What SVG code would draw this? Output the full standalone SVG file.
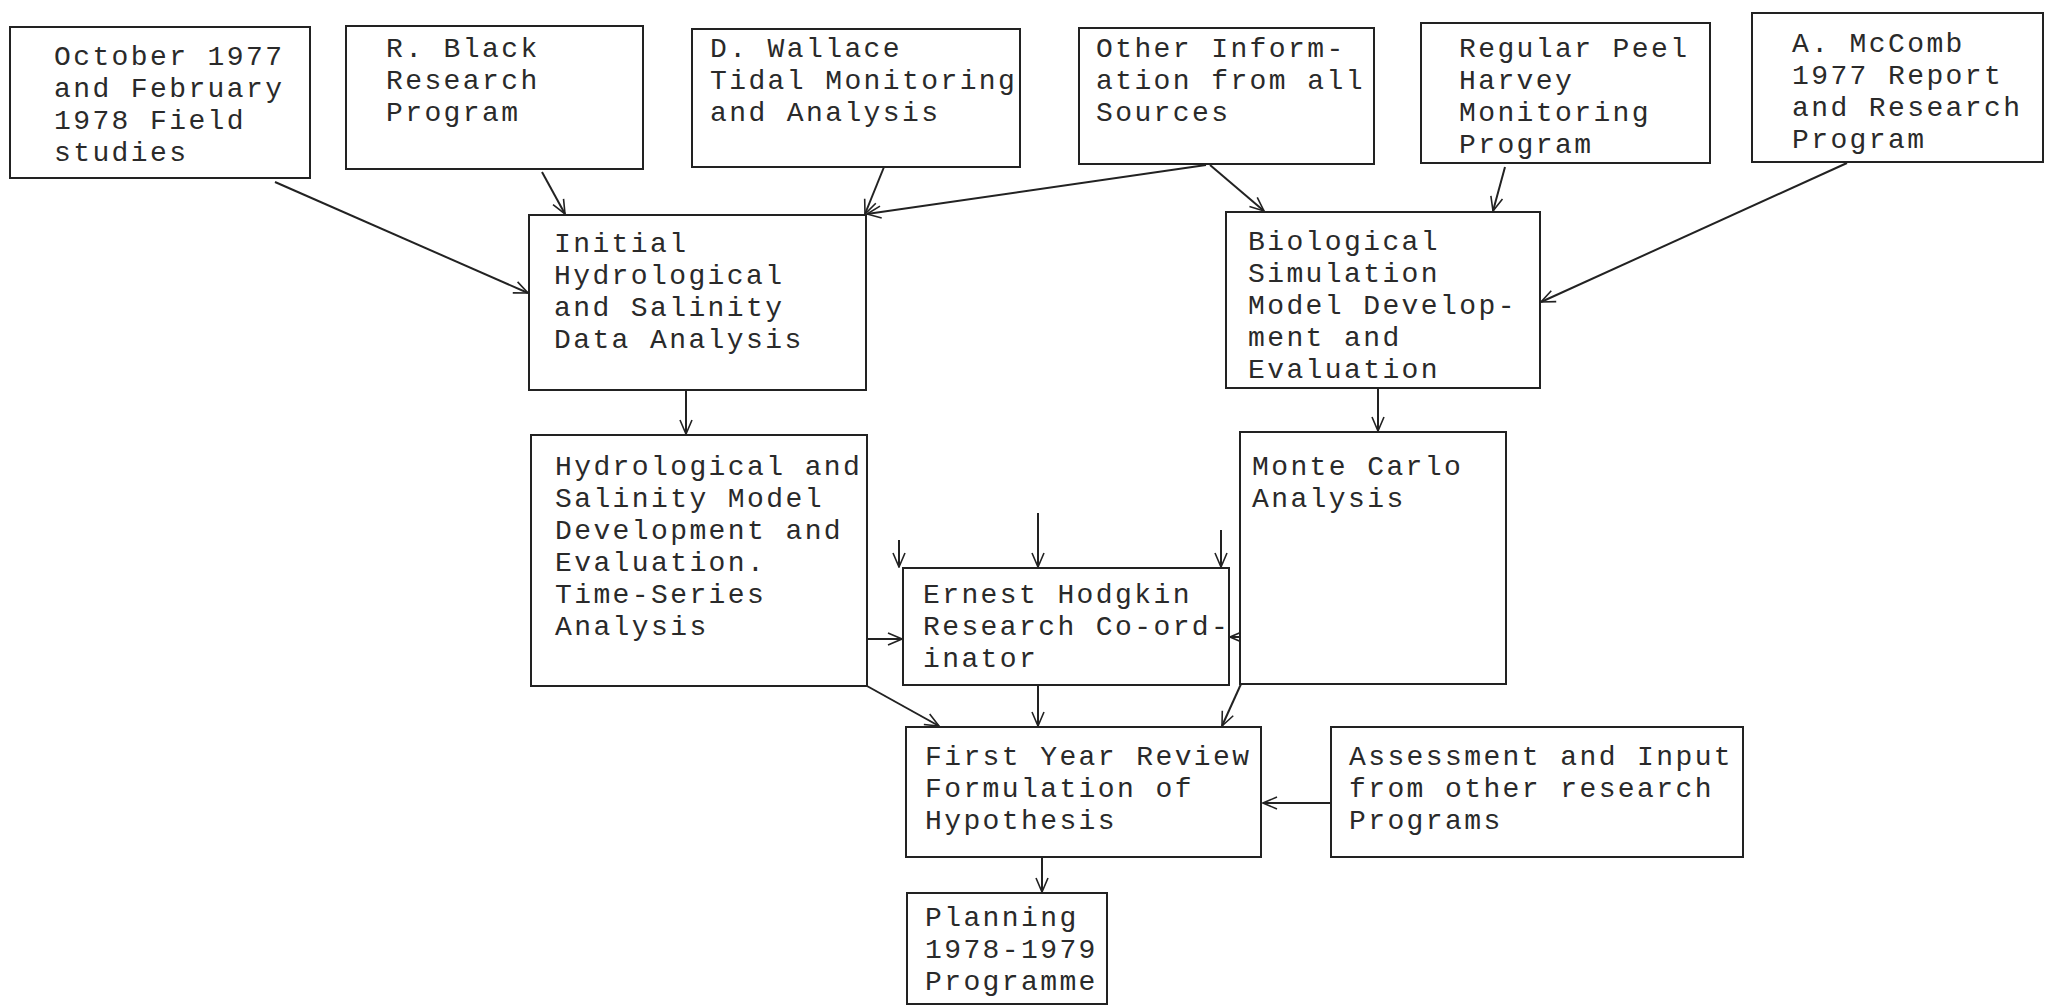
<svg xmlns="http://www.w3.org/2000/svg" width="2046" height="1006" viewBox="0 0 2046 1006">
<style>
.box{fill:#fff;stroke:#222;stroke-width:2}
.t{font-family:"Liberation Mono","Courier New",monospace;font-size:28px;letter-spacing:2.4px;fill:#2a2a2a}
.c{fill:none;stroke:#222;stroke-width:2;marker-end:url(#ah)}
</style>
<defs>
<marker id="ah" viewBox="0 0 16 16" refX="15" refY="8" markerWidth="16" markerHeight="16" markerUnits="userSpaceOnUse" orient="auto">
<path d="M1,2 L15,8 L1,14" fill="none" stroke="#222" stroke-width="1.6"/>
</marker>
</defs>
<rect width="2046" height="1006" fill="#fff"/>
<g id="connectors">
<line class="c" x1="275" y1="182" x2="528" y2="293"/>
<line class="c" x1="542" y1="172" x2="565" y2="214"/>
<line class="c" x1="884" y1="167" x2="865" y2="214"/>
<line class="c" x1="1206" y1="165" x2="867" y2="214"/>
<line class="c" x1="1210" y1="165" x2="1264" y2="211"/>
<line class="c" x1="1505" y1="167" x2="1493" y2="211"/>
<line class="c" x1="1847" y1="163" x2="1541" y2="302"/>
<line class="c" x1="686" y1="390" x2="686" y2="434"/>
<line class="c" x1="1378" y1="388" x2="1378" y2="431"/>
<line class="c" x1="899" y1="540" x2="899" y2="567"/>
<line class="c" x1="1038" y1="513" x2="1038" y2="567"/>
<line class="c" x1="1221" y1="530" x2="1221" y2="567"/>
<line class="c" x1="867" y1="639" x2="902" y2="639"/>
<line class="c" x1="1272" y1="637" x2="1230" y2="637"/>
<line class="c" x1="867" y1="686" x2="939" y2="726"/>
<line class="c" x1="1038" y1="685" x2="1038" y2="726"/>
<line class="c" x1="1241" y1="684" x2="1222" y2="726"/>
<line class="c" x1="1331" y1="803" x2="1263" y2="803"/>
<line class="c" x1="1042" y1="857" x2="1042" y2="892"/>
</g>
<g id="n1"><rect class="box" x="10" y="27" width="300" height="151"/>
<text class="t" x="54" y="65">October 1977</text><text class="t" x="54" y="97">and February</text><text class="t" x="54" y="129">1978 Field</text><text class="t" x="54" y="161">studies</text></g>
<g id="n2"><rect class="box" x="346" y="26" width="297" height="143"/>
<text class="t" x="386" y="57">R. Black</text><text class="t" x="386" y="89">Research</text><text class="t" x="386" y="121">Program</text></g>
<g id="n3"><rect class="box" x="692" y="29" width="328" height="138"/>
<text class="t" x="710" y="57">D. Wallace</text><text class="t" x="710" y="89">Tidal Monitoring</text><text class="t" x="710" y="121">and Analysis</text></g>
<g id="n4"><rect class="box" x="1079" y="28" width="295" height="136"/>
<text class="t" x="1096" y="57">Other Inform-</text><text class="t" x="1096" y="89">ation from all</text><text class="t" x="1096" y="121">Sources</text></g>
<g id="n5"><rect class="box" x="1421" y="23" width="289" height="140"/>
<text class="t" x="1459" y="57">Regular Peel</text><text class="t" x="1459" y="89">Harvey</text><text class="t" x="1459" y="121">Monitoring</text><text class="t" x="1459" y="153">Program</text></g>
<g id="n6"><rect class="box" x="1752" y="13" width="291" height="149"/>
<text class="t" x="1792" y="52">A. McComb</text><text class="t" x="1792" y="84">1977 Report</text><text class="t" x="1792" y="116">and Research</text><text class="t" x="1792" y="148">Program</text></g>
<g id="n7"><rect class="box" x="529" y="215" width="337" height="175"/>
<text class="t" x="554" y="252">Initial</text><text class="t" x="554" y="284">Hydrological</text><text class="t" x="554" y="316">and Salinity</text><text class="t" x="554" y="348">Data Analysis</text></g>
<g id="n8"><rect class="box" x="1226" y="212" width="314" height="176"/>
<text class="t" x="1248" y="250">Biological</text><text class="t" x="1248" y="282">Simulation</text><text class="t" x="1248" y="314">Model Develop-</text><text class="t" x="1248" y="346">ment and</text><text class="t" x="1248" y="378">Evaluation</text></g>
<g id="n9"><rect class="box" x="531" y="435" width="336" height="251"/>
<text class="t" x="555" y="475">Hydrological and</text><text class="t" x="555" y="507">Salinity Model</text><text class="t" x="555" y="539">Development and</text><text class="t" x="555" y="571">Evaluation.</text><text class="t" x="555" y="603">Time-Series</text><text class="t" x="555" y="635">Analysis</text></g>
<g id="n10"><rect class="box" x="1240" y="432" width="266" height="252"/>
<text class="t" x="1252" y="475">Monte Carlo</text><text class="t" x="1252" y="507">Analysis</text></g>
<g id="n11"><rect class="box" x="903" y="568" width="326" height="117"/>
<text class="t" x="923" y="603">Ernest Hodgkin</text><text class="t" x="923" y="635">Research Co-ord-</text><text class="t" x="923" y="667">inator</text></g>
<g id="n12"><rect class="box" x="906" y="727" width="355" height="130"/>
<text class="t" x="925" y="765">First Year Review</text><text class="t" x="925" y="797">Formulation of</text><text class="t" x="925" y="829">Hypothesis</text></g>
<g id="n13"><rect class="box" x="1331" y="727" width="412" height="130"/>
<text class="t" x="1349" y="765">Assessment and Input</text><text class="t" x="1349" y="797">from other research</text><text class="t" x="1349" y="829">Programs</text></g>
<g id="n14"><rect class="box" x="907" y="893" width="200" height="111"/>
<text class="t" x="925" y="926">Planning</text><text class="t" x="925" y="958">1978-1979</text><text class="t" x="925" y="990">Programme</text></g>
</svg>
